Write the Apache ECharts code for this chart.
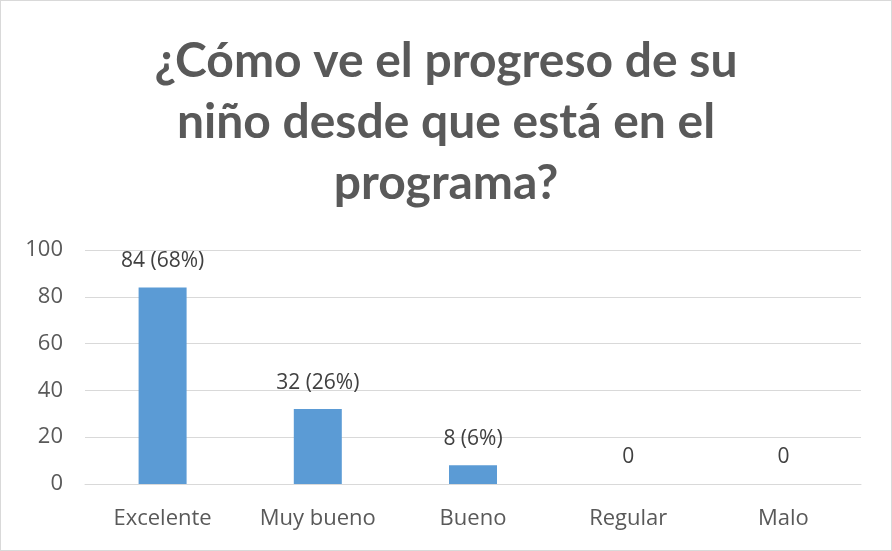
<!DOCTYPE html>
<html>
<head>
<meta charset="utf-8">
<script src="https://cdn.jsdelivr.net/npm/echarts@6/dist/echarts.min.js"></script>
<style>
  html, body { margin: 0; padding: 0; background: #fff; }
  #chart { width: 892px; height: 551px; box-sizing: border-box; border: 1px solid #d9d9d9; }
</style>
</head>
<body>
<div id="chart"></div>
<script>
const categories = ['Excelente', 'Muy bueno', 'Bueno', 'Regular', 'Malo'];
const counts = [84, 32, 8, 0, 0];
const percents = ['68%', '26%', '6%', '', ''];
const titleText = '¿Cómo ve el progreso de su\nniño desde que está en el\nprograma?';

const chartDom = document.getElementById('chart');
const myChart = echarts.init(chartDom);

const option = {
  animation: false,
  title: {
    text: titleText,
    left: 'center',
    top: 25,
    textStyle: {
      color: '#595959',
      fontFamily: 'Lato',
      fontWeight: 'bold',
      fontSize: 48,
      lineHeight: 61,
    },
  },
  grid: {
    left: 84,
    right: 30,
    top: 249,
    bottom: 66,
    containLabel: false,
  },
  xAxis: {
    type: 'category',
    data: categories,
    axisLine: { show: true, lineStyle: { color: '#d9d9d9' } },
    axisTick: { show: false },
    axisLabel: {
      color: '#595959',
      fontFamily: 'Open Sans',
      fontSize: 22,
      margin: 24,
    },
  },
  yAxis: {
    type: 'value',
    min: 0,
    max: 100,
    interval: 20,
    axisLine: { show: false },
    axisTick: { show: false },
    splitLine: { lineStyle: { color: '#d9d9d9' } },
    axisLabel: {
      color: '#595959',
      fontFamily: 'Open Sans',
      fontSize: 22,
      margin: 22,
    },
  },
  series: [
    {
      type: 'bar',
      data: counts,
      barWidth: 48,
      itemStyle: { color: '#5b9bd5' },
      label: {
        show: true,
        position: 'top',
        distance: 16,
        color: '#404040',
        fontFamily: 'Open Sans',
        fontSize: 21,
        formatter: (p) => percents[p.dataIndex] ? p.value + ' (' + percents[p.dataIndex] + ')' : String(p.value),
      },
    },
  ],
};

myChart.setOption(option);
</script>
</body>
</html>
